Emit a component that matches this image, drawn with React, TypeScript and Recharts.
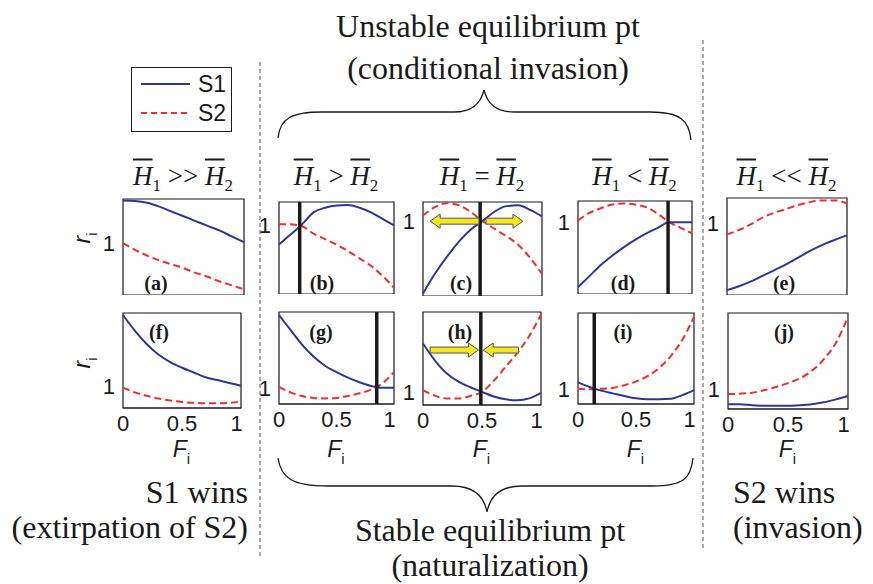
import React from "react";
import { LineChart, Line, XAxis, YAxis, ReferenceLine, ReferenceArea } from "recharts";

// shared x grid (F_i) and ticks
const F_VALUES = [0, 0.1, 0.2, 0.3, 0.4, 0.5, 0.6, 0.7, 0.8, 0.9, 1];
const X_TICKS = [0, 0.5, 1];
const Y_TICKS = [1];

// r_i for S1 / S2, one pair per panel
const S1_A = [1.445, 1.44, 1.42, 1.38, 1.33, 1.28, 1.23, 1.18, 1.13, 1.07, 1.01];
const S2_A = [1.0, 0.93, 0.87, 0.82, 0.78, 0.74, 0.69, 0.65, 0.6, 0.56, 0.52];
const S1_B = [0.79, 0.9, 1.01, 1.14, 1.19, 1.215, 1.22, 1.19, 1.14, 1.07, 1.0];
const S2_B = [1.01, 1.01, 0.99, 0.91, 0.85, 0.79, 0.72, 0.64, 0.56, 0.45, 0.32];
const S1_C = [0.23, 0.44, 0.62, 0.78, 0.91, 1.0, 1.1, 1.16, 1.17, 1.12, 1.05];
const S2_C = [1.06, 1.15, 1.19, 1.17, 1.1, 1.0, 0.92, 0.84, 0.75, 0.61, 0.44];
const S1_D = [0.3, 0.42, 0.54, 0.64, 0.73, 0.81, 0.88, 0.94, 1.0, 1.0, 1.0];
const S2_D = [1.02, 1.1, 1.15, 1.19, 1.2, 1.19, 1.16, 1.09, 1.0, 0.94, 0.88];
const S1_E = [0.31, 0.35, 0.4, 0.46, 0.52, 0.58, 0.65, 0.72, 0.78, 0.83, 0.875];
const S2_E = [0.885, 0.93, 0.99, 1.06, 1.11, 1.15, 1.19, 1.22, 1.235, 1.235, 1.205];
const S1_F = [1.745, 1.58, 1.44, 1.33, 1.25, 1.19, 1.14, 1.09, 1.06, 1.03, 1.0];
const S2_F = [0.98, 0.93, 0.895, 0.865, 0.845, 0.83, 0.82, 0.815, 0.815, 0.82, 0.835];
const S1_G = [1.79, 1.63, 1.47, 1.34, 1.24, 1.17, 1.11, 1.06, 1.02, 1.0, 1.0];
const S2_G = [1.01, 0.95, 0.91, 0.89, 0.885, 0.89, 0.91, 0.94, 0.98, 1.05, 1.17];
const S1_H = [1.52, 1.34, 1.2, 1.11, 1.05, 1.0, 0.95, 0.92, 0.91, 0.93, 0.99];
const S2_H = [1.02, 0.96, 0.93, 0.93, 0.955, 1.0, 1.12, 1.27, 1.42, 1.6, 1.83];
const S1_I = [1.07, 1.02, 0.98, 0.95, 0.92, 0.895, 0.885, 0.885, 0.89, 0.93, 0.985];
const S2_I = [1.0, 0.995, 1.0, 1.01, 1.04, 1.08, 1.14, 1.23, 1.36, 1.54, 1.79];
const S1_J = [0.84, 0.84, 0.83, 0.825, 0.825, 0.825, 0.83, 0.84, 0.86, 0.89, 0.925];
const S2_J = [0.945, 0.95, 0.96, 0.985, 1.02, 1.06, 1.11, 1.19, 1.31, 1.48, 1.75];

// y ranges of each panel
const RANGE_A = [0.46, 1.46];
const RANGE_B = [0.253, 1.253];
const RANGE_C = [0.204, 1.204];
const RANGE_D = [0.228, 1.228];
const RANGE_E = [0.26, 1.26];
const RANGE_F = [0.766, 1.766];
const RANGE_G = [0.824, 1.824];
const RANGE_H = [0.859, 1.859];
const RANGE_I = [0.833, 1.833];
const RANGE_J = [0.79, 1.79];

// equilibrium points (vertical black lines)
const EQ_B = 0.18;
const EQ_C = 0.48;
const EQ_D = 0.79;
const EQ_G = 0.85;
const EQ_H = 0.49;
const EQ_I = 0.14;

// yellow arrows: [from F, to F, r]
const ARROWS_C = [[0.47, 0.06, 1.0], [0.53, 0.84, 1.0]];
const ARROWS_H = [[0.06, 0.47, 1.45], [0.81, 0.51, 1.45]];

const COLUMN_TITLES = [">>", ">", "=", "<", "<<"];

const BLUE = "#2f3795";
const RED = "#ee2d2d";
const INK = "#1a1a1a";
const SANS = "'Liberation Sans', Arial, sans-serif";
const SERIF = "'Liberation Serif', 'Times New Roman', serif";

const PANELS = [
  { id: "a", s1: S1_A, s2: S2_A, range: RANGE_A, eq: null, arrows: [] as number[][], x: 123, y: 199, w: 120, h: 95, bottom: false, lx: 33 },
  { id: "b", s1: S1_B, s2: S2_B, range: RANGE_B, eq: EQ_B, arrows: [], x: 279, y: 202, w: 114, h: 91, bottom: false, lx: 43 },
  { id: "c", s1: S1_C, s2: S2_C, range: RANGE_C, eq: EQ_C, arrows: ARROWS_C, x: 423, y: 202, w: 118, h: 93, bottom: false, lx: 38 },
  { id: "d", s1: S1_D, s2: S2_D, range: RANGE_D, eq: EQ_D, arrows: [], x: 578, y: 201, w: 113, h: 92, bottom: false, lx: 45 },
  { id: "e", s1: S1_E, s2: S2_E, range: RANGE_E, eq: null, arrows: [], x: 727, y: 198, w: 119, h: 96, bottom: false, lx: 57 },
  { id: "f", s1: S1_F, s2: S2_F, range: RANGE_F, eq: null, arrows: [], x: 123, y: 313, w: 117, h: 94, bottom: true, lx: 36 },
  { id: "g", s1: S1_G, s2: S2_G, range: RANGE_G, eq: EQ_G, arrows: [], x: 279, y: 312, w: 114, h: 91, bottom: true, lx: 42 },
  { id: "h", s1: S1_H, s2: S2_H, range: RANGE_H, eq: EQ_H, arrows: ARROWS_H, x: 423, y: 312, w: 117, h: 92, bottom: true, lx: 37 },
  { id: "i", s1: S1_I, s2: S2_I, range: RANGE_I, eq: EQ_I, arrows: [], x: 578, y: 313, w: 115, h: 90, bottom: true, lx: 45 },
  { id: "j", s1: S1_J, s2: S2_J, range: RANGE_J, eq: null, arrows: [], x: 728, y: 313, w: 119, h: 95, bottom: true, lx: 56 },
];

const Y_AXIS_W = 34;
const X_AXIS_H = 34;

function Arrow(props: any) {
  const { x1, y1, x2 } = props;
  const d = x2 > x1 ? 1 : -1;
  const hx = x2 - d * 10;
  const pts = [
    [x1, y1 - 3], [hx, y1 - 3], [hx, y1 - 7], [x2, y1],
    [hx, y1 + 7], [hx, y1 + 3], [x1, y1 + 3],
  ].map((p) => p.join(",")).join(" ");
  return <polygon points={pts} fill="#f4e81a" stroke="#555" strokeWidth={1} />;
}

function Panel({ p }: { p: (typeof PANELS)[number] }) {
  const data = F_VALUES.map((f, k) => ({ F: f, S1: p.s1[k], S2: p.s2[k] }));
  const width = Y_AXIS_W + p.w + 2;
  const height = p.h + 2 + (p.bottom ? X_AXIS_H : 0);
  return (
    <div style={{ position: "absolute", left: p.x - Y_AXIS_W, top: p.y - 1 }}>
      <LineChart width={width} height={height} data={data} margin={{ top: 1, right: 1, left: 0, bottom: 0 }}>
        <XAxis
          dataKey="F"
          type="number"
          domain={[0, 1]}
          ticks={X_TICKS}
          hide={!p.bottom}
          height={X_AXIS_H}
          axisLine={{ stroke: INK }}
          tickLine={false}
          tick={{ fontSize: 22, fill: INK, fontFamily: SANS }}
          tickMargin={1}
        />
        <YAxis
          type="number"
          domain={p.range}
          allowDataOverflow
          ticks={Y_TICKS}
          width={Y_AXIS_W}
          axisLine={false}
          tickLine={false}
          tick={{ fontSize: 22, fill: INK, fontFamily: SANS }}
        />
        <ReferenceArea x1={0} x2={1} y1={p.range[0]} y2={p.range[1]} fill="none" stroke={INK} strokeWidth={1.2} />
        <Line dataKey="S2" type="monotone" stroke={RED} strokeWidth={2} strokeDasharray="7 4" dot={false} isAnimationActive={false} />
        <Line dataKey="S1" type="monotone" stroke={BLUE} strokeWidth={2} dot={false} isAnimationActive={false} />
        {p.eq !== null && <ReferenceLine x={p.eq} stroke={INK} strokeWidth={3.5} />}
        {p.arrows.map((a, k) => (
          <ReferenceLine key={k} segment={[{ x: a[0], y: a[2] }, { x: a[1], y: a[2] }]} shape={Arrow} />
        ))}
      </LineChart>
    </div>
  );
}

function Abs({ x, y, children, style, align = "center" }: any) {
  const tx = align === "center" ? "-50%" : align === "right" ? "-100%" : "0";
  return (
    <div style={{ position: "absolute", left: x, top: y, transform: `translate(${tx}, -50%)`, whiteSpace: "nowrap", lineHeight: 1, ...style }}>
      {children}
    </div>
  );
}

function Title({ op }: { op: string }) {
  const h = (n: number) => (
    <span>
      <span style={{ fontStyle: "italic", textDecoration: "overline", textDecorationThickness: 1.5 }}>H</span>
      <span style={{ fontSize: 17, verticalAlign: -6 }}>{n}</span>
    </span>
  );
  return (
    <span>
      {h(1)} {op} {h(2)}
    </span>
  );
}

export default function App() {
  const bigText = { fontFamily: SERIF, fontSize: 32, color: INK };
  return (
    <div style={{ position: "absolute", left: 0, top: 0, width: 873, height: 584, background: "#fff", overflow: "hidden" }}>
      <svg width={873} height={584} style={{ position: "absolute", left: 0, top: 0 }}>
        <line x1={260} y1={62} x2={260} y2={556} stroke="#555" strokeDasharray="4 3" />
        <line x1={703} y1={40} x2={703} y2={548} stroke="#555" strokeDasharray="4 3" />
        <path d="M278,138 C280,118 292,112 322,112 L454,112 C474,112 481,102 484,90 C487,102 494,112 514,112 L650,112 C680,112 689,120 691,140" fill="none" stroke={INK} strokeWidth={1.3} />
        <path d="M278,458 C281,478 292,486 328,486 L452,486 C474,486 484,496 487,512 C490,496 500,486 522,486 L652,486 C684,486 691,478 693,458" fill="none" stroke={INK} strokeWidth={1.3} />
      </svg>

      {/* legend */}
      <div style={{ position: "absolute", left: 131, top: 67, width: 99, height: 63, border: `1.5px solid ${INK}` }}>
        <svg width={60} height={63} style={{ position: "absolute", left: 0, top: 0 }}>
          <line x1={9} y1={16} x2={58} y2={16} stroke={BLUE} strokeWidth={2} />
          <line x1={9} y1={45} x2={58} y2={45} stroke={RED} strokeWidth={2} strokeDasharray="6 4" />
        </svg>
        <Abs x={66} y={16} align="left" style={{ fontFamily: SANS, fontSize: 23, color: INK }}>S1</Abs>
        <Abs x={66} y={45} align="left" style={{ fontFamily: SANS, fontSize: 23, color: INK }}>S2</Abs>
      </div>

      {PANELS.map((p) => (
        <Panel key={p.id} p={p} />
      ))}

      {PANELS.slice(0, 5).map((p, k) => (
        <Abs key={p.id} x={p.x + p.w / 2} y={178} style={{ fontFamily: SERIF, fontSize: 27, color: INK }}>
          <Title op={COLUMN_TITLES[k]} />
        </Abs>
      ))}

      {PANELS.map((p) => (
        <Abs key={p.id} x={p.x + p.lx} y={p.bottom ? 332 : 283} style={{ fontFamily: SERIF, fontSize: 20, fontWeight: "bold", color: INK }}>
          ({p.id})
        </Abs>
      ))}

      {PANELS.slice(5).map((p) => (
        <Abs key={p.id} x={p.x + p.w / 2} y={452} style={{ fontFamily: SANS, fontSize: 23, color: INK }}>
          <span style={{ fontStyle: "italic" }}>F</span>
          <span style={{ fontSize: 15, verticalAlign: -7 }}>i</span>
        </Abs>
      ))}

      {[238, 363].map((y) => (
        <Abs key={y} x={85} y={y} style={{ fontFamily: SANS, fontSize: 23, color: INK, transform: "translate(-50%, -50%) rotate(-90deg)" }}>
          <span style={{ fontStyle: "italic" }}>r</span>
          <span style={{ fontSize: 15, verticalAlign: -7 }}>i</span>
        </Abs>
      ))}

      <Abs x={488} y={26} style={bigText}>Unstable equilibrium pt</Abs>
      <Abs x={488} y={68} style={bigText}>(conditional invasion)</Abs>
      <Abs x={490} y={530} style={bigText}>Stable equilibrium pt</Abs>
      <Abs x={490} y={565} style={bigText}>(naturalization)</Abs>
      <Abs x={248} y={492} align="right" style={bigText}>S1 wins</Abs>
      <Abs x={248} y={527} align="right" style={bigText}>(extirpation of S2)</Abs>
      <Abs x={733} y={492} align="left" style={bigText}>S2 wins</Abs>
      <Abs x={733} y={527} align="left" style={bigText}>(invasion)</Abs>
    </div>
  );
}
